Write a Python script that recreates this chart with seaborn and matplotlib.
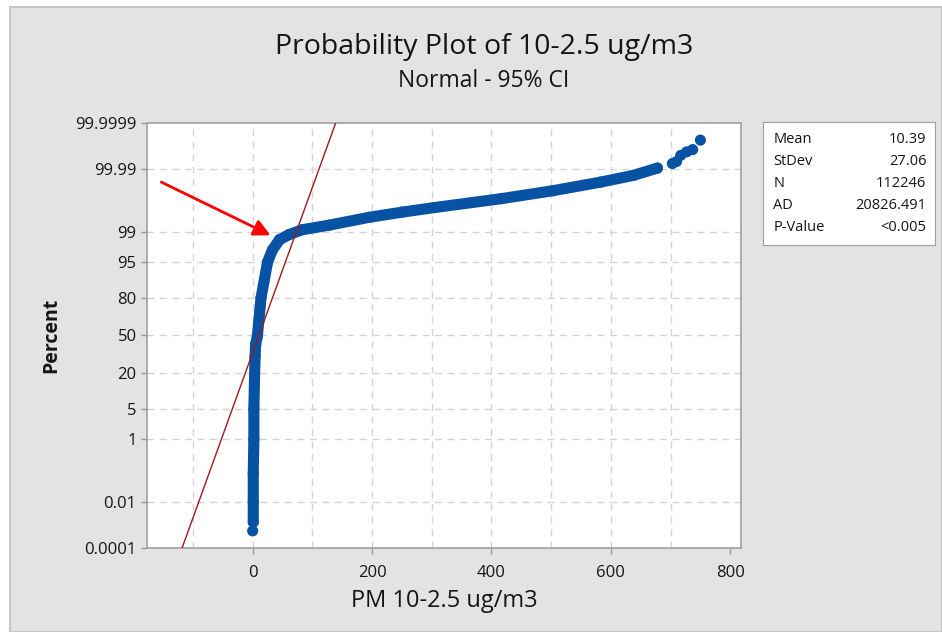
"""
Normal probability plot of PM 10-2.5 (Minitab style), redrawn with seaborn.
"""

from statistics import NormalDist

import matplotlib.pyplot as plt
import matplotlib.patches as mpatches
import numpy as np
import pandas as pd
import seaborn as sns

# Data (x in ug/m3, y in percent)
CURVE_X = [0, 1, 1, 1, 2, 2, 3, 4, 5, 8, 14, 25, 33, 45, 61, 83, 128, 195,
           250, 305, 417, 503, 583, 638, 678]
CURVE_PCT = [0.00062, 0.0015, 0.01, 0.1, 1, 5, 15, 32, 42, 50, 80, 95, 97.2,
             98.4, 98.8, 99.1, 99.32, 99.59, 99.71, 99.79, 99.89, 99.94,
             99.97, 99.983, 99.991]
TAIL_X = [703, 710, 717, 727, 737, 750]
TAIL_PCT = [99.994, 99.995, 99.9972, 99.998, 99.9984, 99.99938]

MEAN = 10.39
STDEV = 27.06
STATS_LABELS = ["Mean", "StDev", "N", "AD", "P-Value"]
STATS_VALUES = ["10.39", "27.06", "112246", "20826.491", "<0.005"]

Y_TICKS = [0.0001, 0.01, 1, 5, 20, 50, 80, 95, 99, 99.99, 99.9999]
Y_TICK_LABELS = ["0.0001", "0.01", "1", "5", "20", "50", "80", "95", "99",
                 "99.99", "99.9999"]
Y_GRID = [0.01, 1, 5, 20, 50, 80, 95, 99, 99.99]
X_TICKS = [0, 200, 400, 600, 800]
X_GRID = [-100, 0, 100, 200, 300, 400, 500, 600, 700]

# Style
BLUE = "#0752A3"
FIT_RED = "#9E1A1A"
BG_GRAY = "#E3E3E3"
TEXT = "#151515"
plt.rcParams["font.family"] = ["Open Sans", "DejaVu Sans"]

ND = NormalDist()


def to_z(pct):
    return ND.inv_cdf(np.clip(pct, 1e-9, 100 - 1e-9) / 100.0)


def main():
    fig = plt.figure(figsize=(9.42, 6.32), dpi=100, facecolor="white")
    fig.patches.append(mpatches.Rectangle(
        (10 / 942, 0), 1 - 10 / 942, 1 - 7 / 632, transform=fig.transFigure,
        facecolor=BG_GRAY, edgecolor="#C8C8C8", linewidth=1.5, zorder=-10))

    ax = fig.add_axes([147 / 942, 1 - 548 / 632, 594 / 942, 425 / 632])
    ax.set_facecolor("white")

    curve = pd.DataFrame({"x": CURVE_X, "z": [to_z(p) for p in CURVE_PCT]})
    tail = pd.DataFrame({"x": TAIL_X, "z": [to_z(p) for p in TAIL_PCT]})

    ylo, yhi = to_z(0.0001), to_z(99.9999)

    # grid
    for gx in X_GRID:
        ax.axvline(gx, color="#D4D4D4", lw=1.0, ls=(0, (5, 4)), zorder=0)
    for gp in Y_GRID:
        ax.axhline(to_z(gp), color="#D4D4D4", lw=1.0, ls=(0, (5, 4)), zorder=0)

    # fitted normal line
    fit = pd.DataFrame({"z": [ylo, yhi]})
    fit["x"] = MEAN + STDEV * fit["z"]
    sns.lineplot(data=fit, x="x", y="z", color=FIT_RED, lw=1.0, ax=ax,
                 sort=False, estimator=None, zorder=3)

    # data points (dense band + discrete upper tail)
    sns.lineplot(data=curve.iloc[1:], x="x", y="z", color=BLUE, lw=8,
                 ax=ax, sort=False, estimator=None, zorder=2,
                 solid_capstyle="round", solid_joinstyle="round")
    sns.scatterplot(data=curve, x="x", y="z", color=BLUE, s=64, ax=ax,
                    edgecolor="none", zorder=2)
    sns.scatterplot(data=tail, x="x", y="z", color=BLUE, s=64, ax=ax,
                    edgecolor="none", zorder=2)

    ax.set_xlim(-177, 818)
    ax.set_ylim(ylo, yhi)
    ax.set_xticks(X_TICKS)
    ax.set_yticks([to_z(p) for p in Y_TICKS])
    ax.set_yticklabels(Y_TICK_LABELS)
    ax.tick_params(axis="both", labelsize=12, colors="#999999",
                   labelcolor=TEXT, length=4, width=1)
    ax.tick_params(axis="x", pad=8)
    for sp in ax.spines.values():
        sp.set_color("#A0A0A0")
        sp.set_linewidth(1.2)

    ax.set_xlabel("PM 10-2.5 ug/m3", fontsize=17, color=TEXT, labelpad=6)
    ax.set_ylabel("Percent", fontsize=14, fontweight="bold", color=TEXT,
                  labelpad=10)

    # red arrow annotation
    ax.annotate("", xy=(30, to_z(98.75)), xytext=(-153, to_z(99.97)),
                arrowprops=dict(arrowstyle="-|>,head_length=1.0,head_width=0.5",
                                color="red", lw=2, shrinkA=0, shrinkB=0),
                zorder=5)

    fig.text(484 / 942, 1 - 47 / 632, "Probability Plot of 10-2.5 ug/m3",
             ha="center", va="center", fontsize=20.5, color=TEXT)
    fig.text(484 / 942, 1 - 81 / 632, "Normal - 95% CI",
             ha="center", va="center", fontsize=16.5, color=TEXT)

    # stats box
    box = fig.add_axes([763 / 942, 1 - 245 / 632, 172 / 942, 123 / 632])
    box.set_xticks([])
    box.set_yticks([])
    box.set_facecolor("white")
    for sp in box.spines.values():
        sp.set_color("#A0A0A0")
    for i, (lab, val) in enumerate(zip(STATS_LABELS, STATS_VALUES)):
        yy = 0.86 - i * 0.18
        box.text(0.06, yy, lab, ha="left", va="center", fontsize=10.5,
                 color=TEXT, transform=box.transAxes)
        box.text(0.95, yy, val, ha="right", va="center", fontsize=10.5,
                 color=TEXT, transform=box.transAxes)

    fig.savefig("out.png", dpi=100, facecolor=fig.get_facecolor())
    plt.close(fig)


if __name__ == "__main__":
    main()
